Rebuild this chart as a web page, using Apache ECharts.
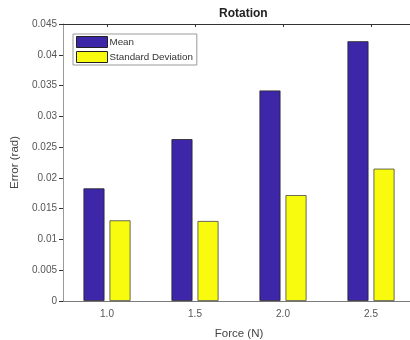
<!DOCTYPE html>
<html>
<head>
<meta charset="utf-8">
<script src="https://cdn.jsdelivr.net/npm/echarts@6/dist/echarts.min.js"></script>
<style>
  html, body { margin: 0; padding: 0; background: #fff; }
  #chart { width: 410px; height: 340px; }
</style>
</head>
<body>
<div id="chart"></div>
<script>
// Force levels and rotation error statistics
const forces = ['1.0', '1.5', '2.0', '2.5'];
const meanError = [0.0183, 0.0263, 0.0342, 0.0422];
const stdError = [0.0131, 0.0130, 0.0172, 0.0215];

const font = 'Liberation Sans, Arial, sans-serif';
const chart = echarts.init(document.getElementById('chart'));

chart.setOption({
  animation: false,
  backgroundColor: '#ffffff',
  title: {
    text: 'Rotation',
    left: 214,
    top: 3,
    textStyle: { fontFamily: font, fontSize: 12, fontWeight: 'bold', color: '#222' }
  },
  legend: {
    orient: 'vertical',
    left: 73,
    top: 34,
    icon: 'rect',
    itemWidth: 31,
    itemHeight: 11,
    itemGap: 3,
    padding: [2, 4, 2, 3],
    borderColor: '#9a9a9a',
    borderWidth: 1,
    borderRadius: 0,
    backgroundColor: '#fff',
    itemStyle: { borderColor: '#222', borderWidth: 1 },
    textStyle: { fontFamily: font, fontSize: 9.8, color: '#333', padding: [0, 0, 0, -3] },
    data: ['Mean', 'Standard Deviation']
  },
  grid: { left: 63, right: -5, top: 24, bottom: 39, outerBoundsMode: 'none', containLabel: false },
  xAxis: [
    {
      type: 'category',
      data: forces,
      name: 'Force (N)',
      nameLocation: 'middle',
      nameGap: 27,
      nameTextStyle: { fontFamily: font, fontSize: 11.5, color: '#444' },
      axisLine: { lineStyle: { color: '#7a7a7a', width: 1 } },
      axisTick: { show: false },
      axisLabel: { fontFamily: font, fontSize: 10, color: '#555', margin: 8 }
    },
    {
      type: 'category',
      position: 'top',
      data: forces,
      axisLine: { lineStyle: { color: '#333', width: 1 } },
      axisTick: { show: true, alignWithLabel: true, inside: true, length: 3, lineStyle: { color: '#333' } },
      axisLabel: { show: false }
    }
  ],
  yAxis: {
    type: 'value',
    min: 0,
    max: 0.045,
    interval: 0.005,
    name: 'Error (rad)',
    nameLocation: 'middle',
    nameGap: 41,
    nameTextStyle: { fontFamily: font, fontSize: 11.5, color: '#444' },
    axisLine: { show: true, lineStyle: { color: '#9a9a9a', width: 1 } },
    axisTick: { show: true, length: 4, lineStyle: { color: '#333' } },
    splitLine: { show: false },
    axisLabel: {
      fontFamily: font, fontSize: 10, color: '#555', margin: 6,
      formatter: v => (v === 0 ? '0' : String(+v.toFixed(3)))
    }
  },
  series: [
    {
      name: 'Mean',
      type: 'bar',
      data: meanError,
      barWidth: 21,
      barGap: '24%',
      itemStyle: { color: '#3e26a8', borderColor: '#222', borderWidth: 0.8 }
    },
    {
      name: 'Standard Deviation',
      type: 'bar',
      data: stdError,
      barWidth: 21,
      itemStyle: { color: '#f9fb0e', borderColor: '#444', borderWidth: 0.8 }
    }
  ]
});
</script>
</body>
</html>
